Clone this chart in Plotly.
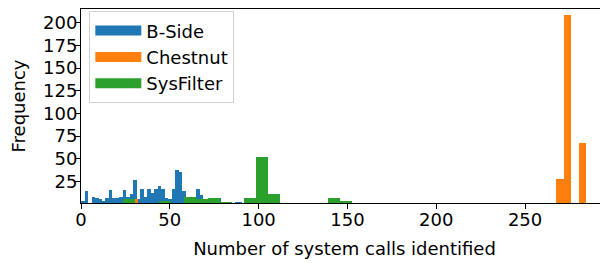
import plotly.graph_objects as go

# ---- data ----
series_names = ["B-Side", "Chestnut", "SysFilter"]
colors = ["#1f77b4", "#ff7f0e", "#2ca02c"]

# B-Side: bins start at 0, width ~1.97
bside_start = 0.0
bside_width = 1.97
bside_counts = [3, 14, 1, 8, 7, 5, 3, 7, 15, 7, 6, 8, 15, 8, 11, 26, 5, 16, 8, 16,
                12, 16, 20, 16, 6, 5, 16, 37, 35, 14, 6, 4, 5, 16, 10, 3, 2, 2, 2, 6,
                1, 1, 1, 1, 2, 2]

# Chestnut: bins start at 27.7, width ~4.208
chest_start = 27.7
chest_width = 4.208
chest_counts = [5] + [0] * 56 + [27, 209, 0, 67]

# SysFilter: bins start at 23.8, width ~6.785
sys_start = 23.8
sys_width = 6.785
sys_counts = [5, 0, 0, 3, 0, 8, 5, 7, 2, 1, 7, 52, 11, 0, 0, 0, 0, 7, 3, 1, 1]

x_ticks = [0, 50, 100, 150, 200, 250]
y_ticks = [25, 50, 75, 100, 125, 150, 175, 200]

FONT = "DejaVu Sans"
FS = 18

def edges(start, width, n):
    return [start + i * width for i in range(n)]

fig = go.Figure()
hist = [
    (series_names[0], bside_start, bside_width, bside_counts, colors[0]),
    (series_names[1], chest_start, chest_width, chest_counts, colors[1]),
    (series_names[2], sys_start, sys_width, sys_counts, colors[2]),
]
for i, (name, st, w, cnt, col) in enumerate(hist):
    fig.add_trace(go.Bar(
        x=edges(st, w, len(cnt)), y=cnt, width=[w] * len(cnt), offset=0,
        marker=dict(color=col, line=dict(width=0)),
        name=name, showlegend=False,
    ))
# legend entries (wide patches like matplotlib)
for i, (name, st, w, cnt, col) in enumerate(hist):
    fig.add_trace(go.Scatter(
        x=[None], y=[None], mode="lines", name=name,
        line=dict(color=col, width=13), legendgroup=name,
    ))

fig.update_layout(
    width=600, height=255,
    margin=dict(l=73, r=0, t=1, b=60),
    paper_bgcolor="white", plot_bgcolor="white",
    barmode="overlay", bargap=0,
    font=dict(family=FONT, size=FS, color="black"),
    showlegend=True,
    legend=dict(
        x=0.0158, y=0.988, xanchor="left", yanchor="top",
        bgcolor="rgba(255,255,255,0.8)", bordercolor="#d0d0d0", borderwidth=1,
        font=dict(family=FONT, size=FS, color="black"),
        traceorder="grouped", tracegroupgap=0, itemwidth=46,
    ),
    xaxis=dict(
        range=[0, 296.7], tickvals=x_ticks, ticks="outside", ticklen=5, tickwidth=1,
        tickcolor="black", showline=True, linecolor="black", linewidth=1, mirror=True,
        showgrid=False, zeroline=False, automargin=False, ticklabelstandoff=-5,
        title=dict(text="Number of system calls identified", font=dict(size=FS), standoff=13),
    ),
    yaxis=dict(
        range=[1, 215.4], tickvals=y_ticks, ticks="outside", ticklen=5, tickwidth=1,
        tickcolor="black", showline=True, linecolor="black", linewidth=1,
        showgrid=False, zeroline=False, automargin=False, ticklabelstandoff=-6,
        title=dict(text="Frequency", font=dict(size=FS), standoff=15),
    ),
)
fig.write_html("out.html")
